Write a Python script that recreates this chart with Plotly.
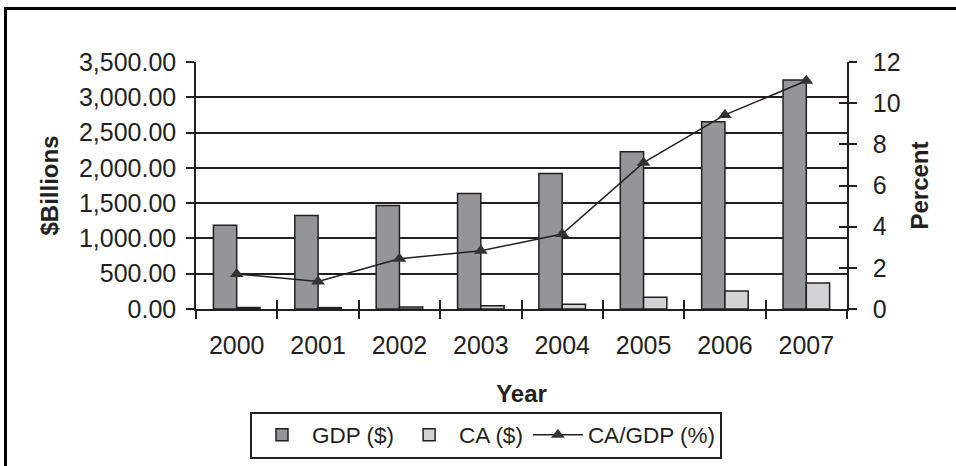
import plotly.graph_objects as go

years = ["2000", "2001", "2002", "2003", "2004", "2005", "2006", "2007"]
gdp = [1185, 1326, 1468, 1638, 1921, 2229, 2654, 3245]
ca = [21, 20, 28, 46, 69, 165, 255, 368]
ca_gdp = [1.7, 1.34, 2.44, 2.83, 3.64, 7.11, 9.43, 11.09]

FONT = "Liberation Sans, Arial, Helvetica, sans-serif"
TXT = "#231f20"

fig = go.Figure()
fig.add_trace(go.Bar(x=years, y=gdp, name="GDP ($)",
                     marker=dict(color="#939598", line=dict(color="#231f20", width=1.5))))
fig.add_trace(go.Bar(x=years, y=ca, name="CA ($)",
                     marker=dict(color="#d1d3d4", line=dict(color="#231f20", width=1.5))))
fig.add_trace(go.Scatter(x=years, y=ca_gdp, name="CA/GDP (%)", yaxis="y2",
                         mode="lines+markers",
                         line=dict(color="#231f20", width=1.5),
                         marker=dict(symbol="triangle-up", size=12, color="#333333")))
# invisible helper trace so the overlay axes (inner tick halves) are drawn
fig.add_trace(go.Scatter(x=years, y=ca_gdp, xaxis="x2", yaxis="y3", mode="lines",
                         line=dict(width=0, color="rgba(0,0,0,0)"),
                         showlegend=False, hoverinfo="skip"))

W, H = 956, 466
L, R, T, B = 196, 109, 62, 157
pw = W - L - R
ph = H - T - B

def px_x(p):
    return (p - L) / pw

def px_y(p):
    return (H - B - p) / ph

axis_font = dict(family=FONT, size=25, color=TXT)
title_font = dict(family=FONT, size=24, color=TXT, weight="bold")

fig.update_layout(
    width=W, height=H,
    margin=dict(l=L, r=R, t=T, b=B, pad=0, autoexpand=False),
    paper_bgcolor="white", plot_bgcolor="white",
    font=dict(family=FONT, color=TXT, size=22),
    barmode="group", bargap=0.428, bargroupgap=0,
    xaxis=dict(type="category", tickson="boundaries", ticks="outside", ticklen=8,
               tickwidth=1.5, tickcolor=TXT, showline=True, linecolor=TXT, linewidth=1.5,
               showgrid=False, tickfont=axis_font, ticklabelstandoff=13,
               automargin=False,
               title=dict(text="Year", font=title_font, standoff=27)),
    xaxis2=dict(type="category", overlaying="x", matches="x", anchor="y", side="bottom",
                tickson="boundaries", ticks="inside", ticklen=9, tickwidth=1.5, tickcolor=TXT,
                showticklabels=False, showgrid=False, showline=False, automargin=False),
    yaxis=dict(range=[0, 3500], dtick=500, tickformat=",.2f", ticks="outside", ticklen=8,
               tickwidth=1.5, tickcolor=TXT, showline=True, linecolor=TXT, linewidth=1.5,
               showgrid=True, gridcolor=TXT, gridwidth=1.5, zeroline=False,
               tickfont=axis_font, ticklabelstandoff=5, automargin=False,
               title=dict(text="$Billions", font=title_font, standoff=14)),
    yaxis2=dict(range=[0, 12], dtick=2, overlaying="y", side="right", anchor="x",
                ticks="outside", ticklen=8, tickwidth=1.5, tickcolor=TXT,
                showline=True, linecolor=TXT, linewidth=1.5, showgrid=False, zeroline=False,
                tickfont=axis_font, ticklabelstandoff=11, automargin=False,
                title=dict(text="Percent", font=title_font, standoff=12)),
    yaxis3=dict(range=[0, 12], dtick=2, overlaying="y", side="right", anchor="x2",
                ticks="inside", ticklen=8, tickwidth=1.5, tickcolor=TXT,
                showticklabels=False, showgrid=False, showline=False, zeroline=False,
                automargin=False),
    legend=dict(orientation="h", x=px_x(486), xanchor="center", y=px_y(435), yanchor="middle",
                bordercolor=TXT, borderwidth=2, font=dict(family=FONT, size=22.5, color=TXT),
                itemwidth=50, traceorder="normal", bgcolor="white"),
    shapes=[dict(type="rect", xref="paper", yref="paper",
                 x0=px_x(5.5), x1=px_x(990), y0=px_y(520), y1=px_y(8.5),
                 line=dict(color="black", width=3), layer="below")],
    showlegend=True,
)

fig.write_html("out.html", config={"displayModeBar": False},
               post_script="document.body.style.margin='0';")
